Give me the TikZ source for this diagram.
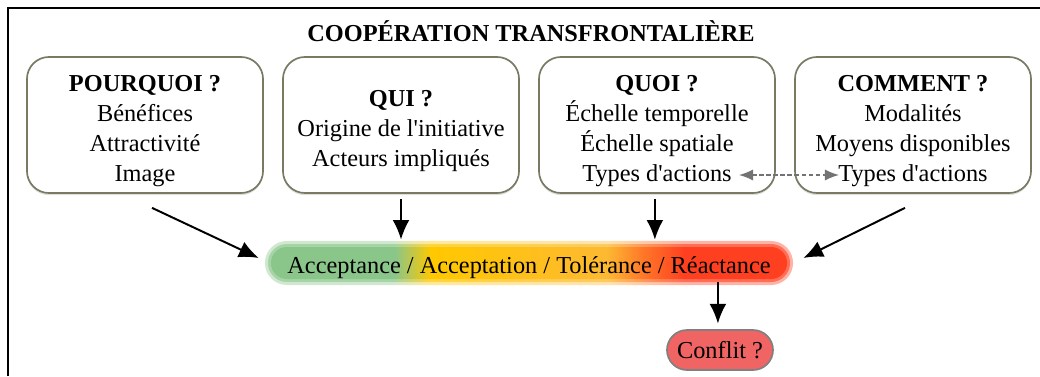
\documentclass[tikz,border=0pt]{standalone}
\usepackage{fontspec}
\setmainfont{Liberation Serif}
\usetikzlibrary{arrows.meta,positioning,calc,shadows}
\definecolor{boxOlive}{RGB}{122,122,100}
\definecolor{acGreen}{RGB}{138,198,138}
\definecolor{acYellow}{RGB}{255,200,0}
\definecolor{acAmber}{RGB}{253,185,50}
\definecolor{acOrange}{RGB}{255,120,40}
\definecolor{acRed}{RGB}{255,64,32}
\definecolor{conflitRed}{RGB}{240,100,100}
\newcommand\cfont{\fontsize{17.3}{21.3}\selectfont}
\newcommand\apos{\textquotesingle}
\pgfdeclarehorizontalshading{accept}{100bp}{color(0bp)=(acGreen); color(25bp)=(acGreen);
  color(37bp)=(acGreen); color(40.5bp)=(acYellow); color(57.5bp)=(acAmber);
  color(61bp)=(acOrange); color(65bp)=(acRed); color(75bp)=(acRed); color(100bp)=(acRed)}
\tikzset{
  qbox/.style={rounded corners=0.55cm, draw=boxOlive, line width=1.2pt, fill=white,
               minimum width=5.9cm, minimum height=3.4cm, inner sep=0pt,
               drop shadow={shadow xshift=0pt, shadow yshift=-1.5pt, opacity=.25}},
  qtext/.style={align=center, inner sep=0pt, font=\cfont},
  barbox/.style={shading=accept, rounded corners=0.55cm, inner sep=0pt,
                 minimum width=13.2cm, minimum height=1.1cm},
  pillbox/.style={rounded corners=0.5cm, draw=gray, fill=conflitRed, line width=1.2pt,
                  minimum width=2.65cm, minimum height=1cm, inner sep=0pt, font=\cfont},
  arrow/.style={-{Latex[length=14pt,width=12pt]}, line width=1.4pt},
  linkarrow/.style={{Latex[length=10pt,width=8pt]}-{Latex[length=10pt,width=8pt]}, line width=1.1pt,
                    draw=gray!90!black, dash pattern=on 3pt off 2pt}
}
\begin{document}
\begin{tikzpicture}[x=0.025cm,y=-0.025cm]
\useasboundingbox (0,0) rectangle (1040,376);
\draw[line width=1.8pt] (8,376) -- (8,8) -- (1040,8);
\node[font=\cfont\bfseries] (title) at (531,31) {COOPÉRATION TRANSFRONTALIÈRE};
% question boxes
\node[qbox] (why) at (145,125) {};
\node[qbox] (who) at (401,125) {};
\node[qbox] (what) at (657,125) {};
\node[qbox] (how) at (913,125) {};
\node[qtext] (whyTxt) at (145,131) {\textbf{POURQUOI ?}\\Bénéfices\\Attractivité\\Image};
\node[qtext] (whoTxt) at (401,131) {\textbf{QUI ?}\\Origine de l\apos initiative\\Acteurs impliqués};
\node[qtext] (whatTxt) at (657,131) {\textbf{QUOI ?}\\Échelle temporelle\\Échelle spatiale\\Types d\apos actions};
\node[qtext] (howTxt) at (913,131) {\textbf{COMMENT ?}\\Modalités\\Moyens disponibles\\Types d\apos actions};
\coordinate (actA) at (739,175);
\coordinate (actB) at (839,175);
\draw[linkarrow] (actA) -- (actB);
% gradient bar with soft edges
\node[barbox, opacity=.4] at (529,263) {};
\node[barbox, opacity=.6, minimum width=13.05cm, minimum height=0.95cm, rounded corners=0.475cm] at (529,263) {};
\node[barbox, minimum width=12.9cm, minimum height=0.8cm, rounded corners=0.4cm] (bar) at (529,263) {};
\node[qtext] (barTxt) at (529,268) {Acceptance / Acceptation / Tolérance / Réactance};
\node[pillbox] (conflit) at (720,350) {Conflit ?};
\draw[arrow] ($(why.south)+(7,14)$) -- ($(bar.west)+(-12,-5)$);
\draw[arrow, shorten <=4pt, shorten >=5pt] (who.south) -- (who.south |- bar.north);
\draw[arrow, shorten <=4pt, shorten >=5pt] ([xshift=-1.5pt]what.south) -- ([xshift=-1.5pt]what.south |- bar.north);
\draw[arrow] ($(how.south)+(-8,14)$) -- ($(bar.east)+(16,-5)$);
\draw[arrow, shorten <=2pt, shorten >=4pt] ([xshift=-1.5pt]conflit.north |- bar.south) -- ([xshift=-1.5pt]conflit.north);
\end{tikzpicture}
\end{document}
